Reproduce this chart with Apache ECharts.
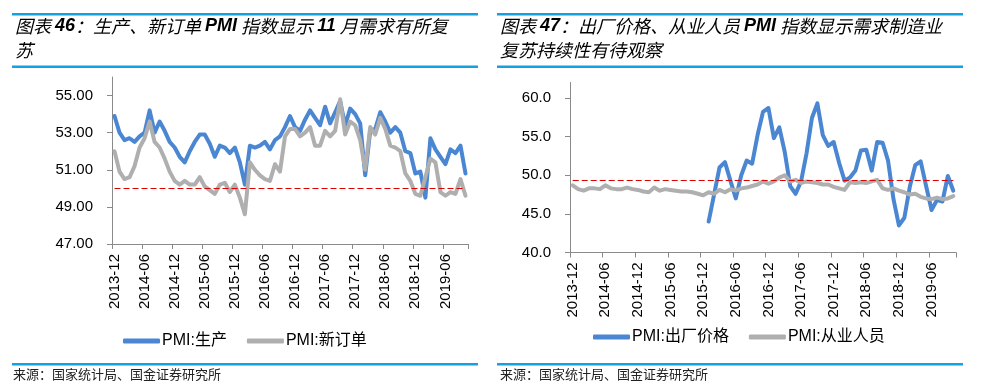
<!DOCTYPE html>
<html>
<head>
<meta charset="utf-8">
<script src="https://cdn.jsdelivr.net/npm/echarts@6/dist/echarts.min.js"></script>
<style>
html,body{margin:0;padding:0;background:#fff;}
#c{width:986px;height:392px;}
</style>
</head>
<body>
<div id="c"></div>
<script>
// ---- data ----
const months = [];
(function(){ let y=2013,m=12; for(let k=0;k<71;k++){ months.push(y+'-'+(m<10?'0'+m:m)); m++; if(m>12){m=1;y++;} } })();

const production = [53.9,53.0,52.6,52.7,52.5,52.8,53.0,54.2,53.0,53.6,53.1,52.5,52.2,51.7,51.4,52.0,52.5,52.9,52.9,52.4,51.7,52.3,52.2,51.9,52.2,51.4,50.2,52.3,52.2,52.3,52.5,52.1,52.6,52.8,53.3,53.9,53.3,53.1,53.7,54.2,53.8,53.4,54.4,53.5,54.1,54.7,53.4,54.3,54.0,53.5,50.7,53.1,53.2,54.1,53.6,53.0,53.3,53.0,52.0,51.9,50.8,50.9,49.5,52.7,52.1,51.7,51.3,52.1,51.9,52.3,50.8];
const newOrders = [52.0,50.9,50.5,50.6,51.2,52.2,52.7,53.6,52.5,52.2,51.6,50.9,50.4,50.2,50.4,50.2,50.2,50.6,50.1,49.9,49.7,50.2,50.3,49.8,50.2,49.5,48.6,51.4,51.0,50.7,50.5,50.4,51.3,50.9,52.8,53.2,53.2,52.8,53.0,53.3,52.3,52.3,53.1,52.8,53.1,54.8,52.9,53.6,53.4,52.6,51.0,53.3,52.9,53.8,53.2,52.3,52.2,52.0,50.8,50.4,49.7,49.6,50.6,51.6,51.4,49.8,49.6,49.8,49.7,50.5,49.6];
const outputPrice = [null,null,null,null,null,null,null,null,null,null,null,null,null,null,null,null,null,null,null,null,null,null,null,null,null,
  44.0,47.5,51.0,51.7,49.3,47.0,50.0,51.9,51.5,55.2,58.2,58.7,54.8,56.2,53.0,48.6,47.6,49.2,52.8,57.4,59.3,55.2,53.8,54.3,51.6,49.3,49.7,50.6,53.2,53.3,50.6,54.3,54.2,51.9,46.9,43.5,44.5,48.5,51.3,51.8,48.6,45.5,46.8,46.6,49.9,48.0];
const employment = [48.7,48.2,48.0,48.3,48.3,48.2,48.7,48.3,48.2,48.2,48.4,48.2,48.1,47.9,47.8,48.4,48.0,48.2,48.1,48.0,47.9,47.9,47.8,47.6,47.4,47.8,47.6,48.1,47.8,48.2,48.0,48.3,48.4,48.6,48.8,49.2,48.9,49.2,49.7,50.0,49.2,49.4,49.0,49.2,49.1,49.0,48.8,48.8,48.5,48.3,48.1,49.1,49.0,49.1,49.0,49.2,49.4,48.3,48.1,48.3,48.0,47.8,47.5,47.6,47.2,47.0,46.9,47.1,46.9,47.0,47.3];

const refLeft = 50;
const refRight = 49.4;
const yTicksLeft = [47,49,51,53,55];
const yTicksRight = [40,45,50,55,60];
const namesLeft = ['PMI:生产','PMI:新订单'];
const namesRight = ['PMI:出厂价格','PMI:从业人员'];

// ---- styles ----
const BLUE = '#4a86d2', GRAY = '#afafaf', RULE = '#14a1e2', AXIS = '#8a8a8a';
const LAT = '"Liberation Sans", "Noto Sans CJK SC", sans-serif';
const CJK = '"Noto Sans CJK SC", sans-serif';

function xAxisCfg(grid){
  return {
    type:'category', gridIndex:grid, data:months, boundaryGap:true,
    axisLine:{show:true, lineStyle:{color:AXIS, width:1}},
    axisTick:{show:true, interval:5, length:5, lineStyle:{color:AXIS}},
    axisLabel:{interval:5, rotate:90, margin:10, color:'#000', fontSize:15, fontFamily:LAT},
    splitLine:{show:false}
  };
}
function yAxisCfg(grid, min, max, ticks, dec){
  return {
    type:'value', gridIndex:grid, min:min, max:max,
    axisLine:{show:true, lineStyle:{color:AXIS, width:1}},
    axisTick:{show:true, length:5, customValues:ticks, lineStyle:{color:AXIS}},
    axisLabel:{customValues:ticks, margin:19, color:'#000', fontSize:15, fontFamily:LAT,
      formatter:function(v){ return ticks.indexOf(v) >= 0 ? v.toFixed(dec) : ''; }},
    splitLine:{show:false}
  };
}
function lineSeries(name, data, color, xi, ref){
  const s = {
    name:name, type:'line', data:data, xAxisIndex:xi, yAxisIndex:xi,
    symbol:'none', showSymbol:false, connectNulls:false,
    lineStyle:{color:color, width:4, join:'round', cap:'round'},
    itemStyle:{color:color}
  };
  if (ref !== undefined) {
    s.markLine = {
      silent:true, symbol:['none','none'], label:{show:false},
      lineStyle:{color:'#e00000', type:[6,3], width:1},
      emphasis:{disabled:true},
      data:[[{coord:[months[0], ref]},{coord:[months[months.length-1], ref]}]]
    };
  }
  return s;
}
function legendCfg(names, left, top){
  return {
    data:names, left:left, top:top, orient:'horizontal', selectedMode:false,
    icon:'roundRect', itemWidth:37, itemHeight:5, itemGap:20,
    textStyle:{color:'#000', fontSize:16, fontFamily:LAT, padding:[0,0,0,-3]}
  };
}
function titleText(x, y, parts){
  let t = '';
  parts.forEach(p => { t += '{' + (p[1] ? 'b' : 'c') + '|' + p[0] + '}'; });
  return {
    type:'text', left:x, top:y, silent:true,
    style:{
      text:t,
      rich:{
        c:{fontSize:18, fontStyle:'italic', fontFamily:CJK, fill:'#000'},
        b:{fontSize:18, fontStyle:'italic', fontWeight:'bold', fontFamily:LAT, fill:'#000'}
      }
    }
  };
}
function rule(x, y, w){
  return {type:'rect', silent:true, shape:{x:x, y:y, width:w, height:2.5}, style:{fill:RULE}};
}
function srcText(x, y){
  return {type:'text', left:x, top:y, silent:true,
    style:{text:'来源：国家统计局、国金证券研究所', fontSize:13, fontFamily:CJK, fill:'#222'}};
}

const option = {
  animation:false,
  backgroundColor:'#fff',
  grid:[
    {left:112, top:77, width:356, height:167, containLabel:false},
    {left:570, top:82.5, width:386, height:170, containLabel:false}
  ],
  xAxis:[xAxisCfg(0), xAxisCfg(1)],
  yAxis:[yAxisCfg(0, 47, 56, yTicksLeft, 2), yAxisCfg(1, 40, 62, yTicksRight, 1)],
  legend:[legendCfg(namesLeft, 118, 328), legendCfg(namesRight, 588, 324)],
  series:[
    lineSeries(namesLeft[0], production, BLUE, 0),
    lineSeries(namesLeft[1], newOrders, GRAY, 0, refLeft),
    lineSeries(namesRight[0], outputPrice, BLUE, 1),
    lineSeries(namesRight[1], employment, GRAY, 1, refRight)
  ],
  graphic:[
    rule(12, 13, 466), rule(12, 65.5, 466), rule(12, 363, 466),
    rule(497, 13, 466), rule(497, 65.5, 466), rule(497, 363, 466),
    titleText(15, 17, [['图表 ',0],['46',1],['：生产、新订单 ',0],['PMI',1],[' 指数显示 ',0],['11',1],[' 月需求有所复',0]]),
    titleText(15, 41, [['苏',0]]),
    titleText(500, 17, [['图表 ',0],['47',1],['：出厂价格、从业人员 ',0],['PMI',1],[' 指数显示需求制造业',0]]),
    titleText(500, 41, [['复苏持续性有待观察',0]]),
    srcText(13, 368), srcText(500, 368)
  ]
};

const chart = echarts.init(document.getElementById('c'), null, {renderer:'canvas'});
chart.setOption(option);
</script>
</body>
</html>
